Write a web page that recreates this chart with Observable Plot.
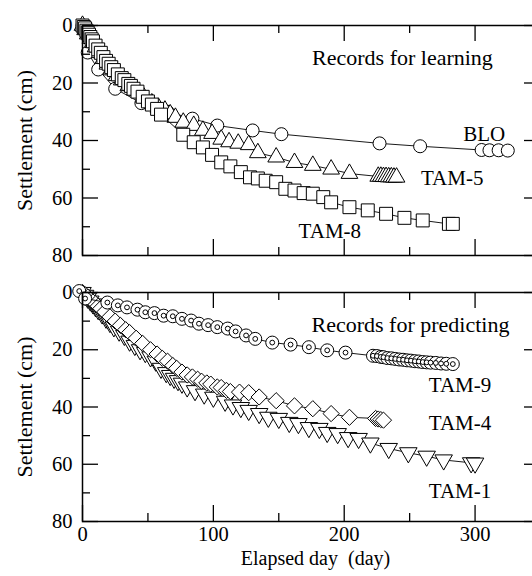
<!DOCTYPE html>
<html>
<head>
<meta charset="utf-8">
<script src="https://cdn.jsdelivr.net/npm/d3@7"></script>
<script src="https://cdn.jsdelivr.net/npm/@observablehq/plot@0.6"></script>
<style>
  html, body { margin: 0; padding: 0; background: #fff; overflow: hidden; }
  #wrap { position: relative; width: 532px; height: 576px; overflow: hidden; background: #fff; }
  #top, #bottom { position: absolute; left: 0; width: 540px; }
  #top { top: 0; }
  #bottom { top: 270px; }
  #wrap svg {
    max-width: none !important;
    font-family: "Liberation Serif", "DejaVu Serif", serif !important;
    font-size: 20.5px !important;
    background: #fff;
    overflow: visible;
  }
  #wrap svg text, #wrap svg g { font-family: "Liberation Serif", "DejaVu Serif", serif !important; }
</style>
</head>
<body>
<div id="wrap"><div id="top"></div><div id="bottom"></div></div>
<script>
// ---- Tick values ----
const xMajor = [0, 100, 200, 300];
const xMinor = [50, 150, 250];
const yMajor = [0, 20, 40, 60, 80];
const yMinor = [10, 30, 50, 70];

// ---- Records for learning ----
const bloX = [0, 4, 12, 25, 45, 65, 84, 103, 130, 152, 227, 258, 305, 311, 318, 325];
const bloY = [0, 9.4, 15.3, 22, 27, 30, 32.4, 34.8, 36.5, 37.8, 41, 42, 43.3, 43.4, 43.4, 43.5];

const tam5X = [0, 2, 4, 6, 8, 10, 13, 16, 19, 22, 26, 30, 35, 40, 47, 53, 58, 63, 67, 71, 77, 85, 92, 99, 106, 112, 119, 127, 134, 148, 162, 176, 190, 204, 226, 228, 230, 232, 234, 236, 238, 240];
const tam5Y = [0, 1.5, 3, 4.5, 6, 7.5, 9.5, 11.5, 13.5, 15.5, 17.5, 19, 21, 22.5, 25, 27, 28.5, 29.5, 30.8, 32, 33.7, 34.8, 36.5, 37.6, 39.6, 40.5, 41, 41.5, 44.3, 45.8, 47.7, 48.7, 50, 51.5, 52.5, 52.5, 52.6, 52.6, 52.7, 52.7, 52.8, 52.8];

const tam8X = [0, 1, 2, 3, 4, 5, 6, 7, 8, 10, 12, 14, 16, 18, 20, 22, 24, 27, 30, 32, 35, 37, 39, 42, 46, 50, 53, 57, 60, 77, 85, 92, 99, 106, 113, 121, 128, 134, 140, 148, 155, 162, 169, 176, 184, 190, 204, 218, 232, 246, 260, 280, 283];
const tam8Y = [0, 0.5, 1, 1.8, 2.5, 3.2, 4, 4.8, 5.5, 7, 8.3, 9.5, 11, 12.3, 13.3, 14.5, 15.5, 17, 18.3, 19, 20.3, 21, 22, 23, 24.8, 26.4, 27.5, 29, 31, 38, 40.6, 42.4, 45, 47.6, 49, 51, 52.8, 53.2, 54, 54.5, 56.8, 57.4, 58.3, 58.5, 59.7, 61.5, 63.2, 64.3, 65.5, 66.9, 67.8, 69, 69];

// ---- Records for predicting ----
const tam9X = [-2.5, 2, 19, 27, 34, 42, 48, 55, 62, 69, 76, 83, 89, 96, 103, 111, 117, 125, 132, 145, 159, 173, 187, 201, 222, 225, 228, 230, 233, 236, 239, 242, 245, 248, 251, 254, 257, 260, 263, 266, 270, 274, 278, 283];
const tam9Y = [-0.5, 2.1, 3.5, 4.5, 5.2, 6, 6.9, 7.2, 8.1, 8.3, 9.2, 9.8, 10.9, 11.4, 12.1, 12.6, 13.6, 15, 16.2, 17.5, 18.2, 19.1, 20.2, 21, 22.1, 22.2, 22.5, 22.6, 22.9, 23, 23.2, 23.4, 23.5, 23.7, 23.8, 24, 24.1, 24.3, 24.4, 24.5, 24.6, 24.8, 24.9, 25];

const tam4X = [0, 2, 4, 6, 8, 10, 12, 14, 17, 21, 25, 29, 33, 36, 41, 46, 52, 57, 61, 65, 69, 72, 76, 80, 84, 88, 91, 95, 98, 103, 106, 110, 113, 120, 127, 135, 148, 162, 176, 190, 204, 224, 226, 228, 230];
const tam4Y = [0, 0.8, 1.6, 2.5, 3.3, 4, 4.8, 5.6, 6.8, 8.5, 10, 11.5, 13, 14, 16, 17.8, 20, 21.5, 23, 24, 25.5, 26.5, 27.8, 28.8, 29.5, 30.3, 31, 31.6, 32, 33, 33.2, 34.2, 34.6, 34.8, 35, 36.5, 37.8, 39.6, 40.6, 42.3, 43.6, 44, 44.2, 44.4, 44.6];

const tam1X = [0, 2, 4, 6, 8, 10, 12, 15, 18, 21, 24, 28, 32, 36, 40, 44, 48, 52, 56, 60, 64, 67, 70, 73, 76, 80, 86, 93, 100, 109, 115, 121, 127, 135, 142, 150, 158, 165, 173, 181, 187, 195, 203, 211, 220, 234, 249, 263, 276, 297, 300];
const tam1Y = [0, 1, 2, 3, 4, 5, 6, 7.5, 9, 10.5, 12, 13.5, 15, 17, 18.5, 20, 21, 22.5, 24, 26.5, 28, 29, 30, 30.8, 31.7, 33, 34.3, 35.5, 36.6, 38, 39.3, 40.2, 41.2, 42.3, 43.6, 44, 45.4, 45.8, 47.2, 47.5, 48.9, 49.3, 50.7, 51, 52.6, 54.5, 56, 57.2, 58.5, 59.5, 59.6];

// ---- Annotation texts (data-coordinate anchors) ----
const topLabels = [
  {t: "Records for learning", x: 244.5, y: 11.3, big: true},
  {t: "BLO", x: 307, y: 37.7},
  {t: "TAM-5", x: 282.5, y: 53},
  {t: "TAM-8", x: 189, y: 71.7}
];
const bottomLabels = [
  {t: "Records for predicting", x: 250.6, y: 11.5, big: true},
  {t: "TAM-9", x: 288.5, y: 32.3},
  {t: "TAM-4", x: 288.5, y: 45.6},
  {t: "TAM-1", x: 288.5, y: 69.3}
];

const toRows = (xs, ys) => xs.map((x, i) => ({x, y: ys[i]}));
const blo = toRows(bloX, bloY), tam5 = toRows(tam5X, tam5Y), tam8 = toRows(tam8X, tam8Y);
const tam9 = toRows(tam9X, tam9Y), tam4 = toRows(tam4X, tam4Y), tam1 = toRows(tam1X, tam1Y);

const FONT = "Liberation Serif, DejaVu Serif, serif";
const W = 540, ML = 82, MR = 0;
const plotW = W - ML - MR;

function series(data, dotOpts) {
  return [
    Plot.line(data, {x: "x", y: "y", stroke: "black", strokeWidth: 0.9}),
    Plot.dot(data, {x: "x", y: "y", fill: "white", stroke: "black", strokeWidth: 1, ...dotOpts})
  ];
}

function frameMarks(plotH) {
  return [
    Plot.frame({stroke: "black", strokeWidth: 1.5}),
    Plot.tickX(xMajor, {x: d => d, insetBottom: plotH - 16, stroke: "black", strokeWidth: 1.3}),
    Plot.tickX(xMajor, {x: d => d, insetTop: plotH - 16, stroke: "black", strokeWidth: 1.3}),
    Plot.tickX(xMinor, {x: d => d, insetBottom: plotH - 8, stroke: "black", strokeWidth: 1.3}),
    Plot.tickX(xMinor, {x: d => d, insetTop: plotH - 8, stroke: "black", strokeWidth: 1.3}),
    Plot.tickY(yMajor, {y: d => d, insetRight: plotW - 16, stroke: "black", strokeWidth: 1.3}),
    Plot.tickY(yMajor, {y: d => d, insetLeft: plotW - 16, stroke: "black", strokeWidth: 1.3}),
    Plot.tickY(yMinor, {y: d => d, insetRight: plotW - 8, stroke: "black", strokeWidth: 1.3}),
    Plot.tickY(yMinor, {y: d => d, insetLeft: plotW - 8, stroke: "black", strokeWidth: 1.3}),
    Plot.text(["Settlement (cm)"], {text: d => d, frameAnchor: "left", textAnchor: "middle", dx: -58, rotate: -90, fontSize: 22, fontFamily: FONT, fill: "black"})
  ];
}

function labelMarks(labels) {
  return [
    Plot.text(labels.filter(d => d.big), {x: "x", y: "y", text: "t", fontSize: 22, fontFamily: FONT, fill: "black"}),
    Plot.text(labels.filter(d => !d.big), {x: "x", y: "y", text: "t", fontSize: 21, fontFamily: FONT, fill: "black"})
  ];
}

// ---- Top panel ----
const topH = 270, topMT = 25, topMB = 15;
const topPlot = Plot.plot({
  width: W, height: topH,
  marginLeft: ML, marginRight: MR, marginTop: topMT, marginBottom: topMB,
  x: {domain: [0, 350], axis: null},
  y: {domain: [0, 80], reverse: true, ticks: yMajor, tickSize: 0, tickPadding: 10, label: null},
  marks: [
    ...series(blo, {r: 6.5}),
    ...series(tam5, {symbol: "triangle", r: 6.2}),
    ...series(tam8, {symbol: "square", r: 7.3}),
    ...frameMarks(topH - topMT - topMB),
    ...labelMarks(topLabels)
  ]
});
document.getElementById("top").appendChild(topPlot);

// ---- Bottom panel ----
const botH = 306, botMT = 22, botMB = 55;
const botPlot = Plot.plot({
  width: W, height: botH,
  marginLeft: ML, marginRight: MR, marginTop: botMT, marginBottom: botMB,
  x: {domain: [0, 350], ticks: xMajor, tickSize: 0, tickPadding: 5, label: null},
  y: {domain: [0, 80], reverse: true, ticks: yMajor, tickSize: 0, tickPadding: 10, label: null},
  marks: [
    ...series(tam1, {symbol: "triangle", r: 6.5, rotate: 180}),
    ...series(tam4, {symbol: "diamond2", r: 7.3}),
    ...series(tam9, {r: 6.5}),
    Plot.dot(tam9, {x: "x", y: "y", r: 2.4, fill: "white", stroke: "black", strokeWidth: 1}),
    ...frameMarks(botH - botMT - botMB),
    ...labelMarks(bottomLabels),
    Plot.text(["Elapsed day  (day)"], {text: d => d, frameAnchor: "bottom", dx: 4, dy: 43, fontSize: 20, fontFamily: FONT, fill: "black"})
  ]
});
document.getElementById("bottom").appendChild(botPlot);
</script>
</body>
</html>
